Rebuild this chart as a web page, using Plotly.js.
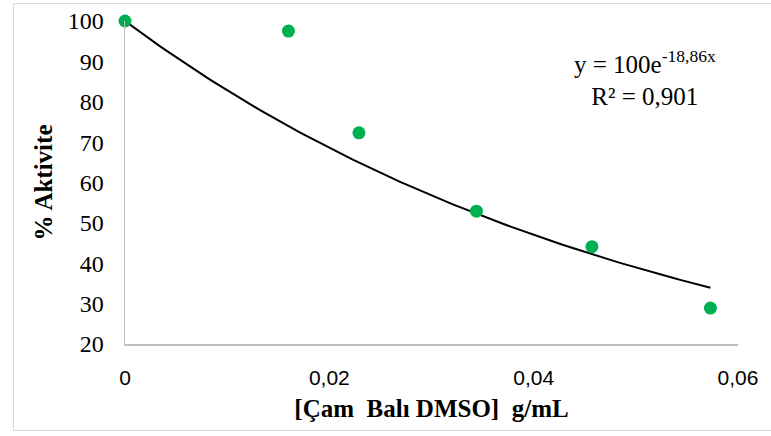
<!DOCTYPE html>
<html>
<head>
<meta charset="utf-8">
<script src="https://cdn.plot.ly/plotly-3.0.1.min.js"></script>
<style>
  html, body { margin: 0; padding: 0; background: #ffffff; }
  #wrap { position: relative; width: 771px; height: 436px; overflow: hidden; }
  #chart { width: 771px; height: 436px; }
  #frame {
    position: absolute; left: 13px; top: 3px; width: 800px; height: 428px;
    border: 1.5px solid #d9d9d9; pointer-events: none; box-sizing: border-box;
  }
</style>
</head>
<body>
<div id="wrap">
  <div id="chart"></div>
  <div id="frame"></div>
</div>
<script>
// Measured activity vs. concentration
const concentration = [0, 0.0160, 0.0229, 0.0344, 0.0457, 0.0573];
const activity = [100, 97.5, 72.3, 52.9, 44.1, 28.9];

// Exponential fit reported on the chart: y = A·e^(k·x)
const fitA = 100;
const fitK = -18.86;
const fitR2 = "0,901";

const xTicks = [0, 0.02, 0.04, 0.06];
const yTicks = [20, 30, 40, 50, 60, 70, 80, 90, 100];

// Fit curve sampled over the measured concentration span
const fitX = [];
const fitY = [];
const xMax = concentration[concentration.length - 1];
for (let i = 0; i <= 100; i++) {
  const x = xMax * i / 100;
  fitX.push(x);
  fitY.push(fitA * Math.exp(fitK * x));
}

const serif = "Liberation Serif";
const sans = "Liberation Sans";

const traces = [
  {
    x: fitX, y: fitY, type: 'scatter', mode: 'lines',
    line: { color: '#000000', width: 2 },
    hoverinfo: 'skip', showlegend: false
  },
  {
    x: concentration, y: activity, type: 'scatter', mode: 'markers',
    marker: { color: '#00b050', size: 13 },
    showlegend: false, cliponaxis: false
  }
];

const layout = {
  width: 771, height: 436,
  margin: { l: 125, r: 33, t: 21, b: 92 },
  paper_bgcolor: '#ffffff', plot_bgcolor: '#ffffff',
  font: { family: serif, size: 24, color: '#000000' },
  separators: ',.',
  showlegend: false,
  xaxis: {
    range: [0, 0.06], tickvals: xTicks,
    showgrid: false, zeroline: false,
    showline: true, linecolor: '#bfbfbf', linewidth: 1.5,
    ticks: 'outside', ticklen: 14, tickcolor: 'rgba(0,0,0,0)',
    tickfont: { family: sans, size: 21, color: '#000000' },
    title: {
      text: '[Çam  Balı DMSO]  g/mL',
      font: { family: serif, size: 25, color: '#000000', weight: 'bold' },
      standoff: 12
    }
  },
  yaxis: {
    range: [20, 100], tickvals: yTicks,
    showgrid: false, zeroline: false,
    showline: true, linecolor: '#bfbfbf', linewidth: 1.5,
    ticks: 'outside', ticklen: 15, tickcolor: 'rgba(0,0,0,0)',
    tickfont: { family: serif, size: 24, color: '#000000' },
    title: {
      text: '% Aktivite',
      font: { family: serif, size: 25, color: '#000000', weight: 'bold' },
      standoff: 8
    }
  },
  annotations: [
    {
      xref: 'paper', yref: 'paper', x: 0.848, y: 0.822,
      xanchor: 'center', yanchor: 'middle', align: 'center',
      showarrow: false,
      text: 'y = ' + fitA + 'e<sup>' + String(fitK).replace('.', ',') + 'x</sup><br>R² = ' + fitR2,
      font: { family: serif, size: 25, color: '#000000' }
    }
  ]
};

Plotly.newPlot('chart', traces, layout, { displayModeBar: false, staticPlot: true });
</script>
</body>
</html>
